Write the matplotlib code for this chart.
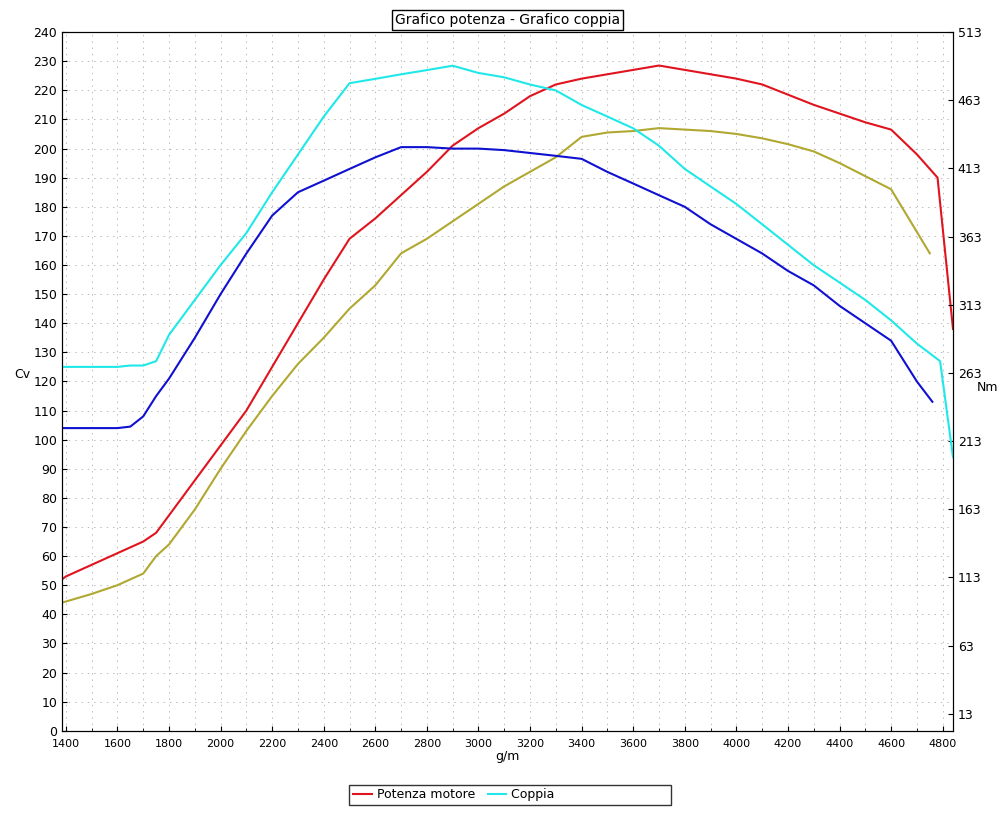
import matplotlib
matplotlib.use("Agg")
import matplotlib.pyplot as plt
from matplotlib.ticker import MultipleLocator

rpm_red = [1385,1400,1500,1600,1700,1750,1800,1900,2000,2100,2200,2300,2400,2500,2600,2700,2800,2900,3000,3100,3200,3300,3400,3500,3600,3700,3800,3900,4000,4100,4200,4300,4400,4500,4600,4700,4780,4840]
power_red = [52,53,57,61,65,68,74,86,98,110,125,140,155,169,176,184,192,201,207,212,218,222,224,225.5,227,228.5,227,225.5,224,222,218.5,215,212,209,206.5,198,190,138]

rpm_olive = [1385,1500,1600,1700,1750,1800,1900,2000,2100,2200,2300,2400,2500,2600,2700,2800,2900,3000,3100,3200,3300,3400,3500,3600,3700,3800,3900,4000,4100,4200,4300,4400,4500,4600,4750]
power_olive = [44,47,50,54,60,64,76,90,103,115,126,135,145,153,164,169,175,181,187,192,197,204,205.5,206,207,206.5,206,205,203.5,201.5,199,195,190.5,186,164]

rpm_cyan = [1385,1600,1650,1700,1750,1800,1900,2000,2100,2200,2300,2400,2500,2600,2700,2800,2900,3000,3100,3200,3300,3400,3500,3600,3700,3800,3900,4000,4100,4200,4300,4400,4500,4600,4700,4790,4840]
torque_cyan = [267.4,267.4,268.4,268.4,271.6,290.9,316.5,342.1,365.6,395.5,423.2,451,475.5,478.7,482,485.1,488.3,483,479.8,474.5,470.2,459.5,451,442.4,429.6,412.6,399.7,386.9,372,357,342,329.3,316.5,301.5,284.5,271.6,201.2]

rpm_blue = [1385,1600,1650,1700,1750,1800,1900,2000,2100,2200,2300,2400,2500,2600,2700,2800,2900,3000,3100,3200,3300,3400,3500,3600,3700,3800,3900,4000,4100,4200,4300,4400,4500,4600,4700,4760]
torque_blue = [222.5,222.5,223.6,231.1,246,258.8,288.7,320.8,350.6,378.4,395.5,404,412.6,421.1,428.6,428.6,427.5,427.5,426.4,424.3,422.2,420,410.4,401.9,393.3,384.8,372,361.3,350.6,337.8,327.2,312.2,299.4,286.6,256.7,241.8]

fig = plt.figure(figsize=(10, 8.22), dpi=100)
ax = fig.add_axes([0.062, 0.111, 0.891, 0.850])
ax2 = ax.twinx()

ax.plot(rpm_olive, power_olive, color="#b0a830", lw=1.5)
ax.plot(rpm_red, power_red, color="#e0141e", lw=1.5, label="Potenza motore")
ax2.plot(rpm_blue, torque_blue, color="#1010d0", lw=1.5)
ax2.plot(rpm_cyan, torque_cyan, color="#20e8e8", lw=1.5, label="Coppia")

ax.set_xlim(1385, 4840)
ax.set_ylim(0, 240)
ax2.set_ylim(0.5, 513)
ax.xaxis.set_major_locator(MultipleLocator(200))
ax.xaxis.set_minor_locator(MultipleLocator(100))
ax.yaxis.set_major_locator(MultipleLocator(10))
ax2.set_yticks(list(range(13, 514, 50)))
ax.grid(True, which="both", axis="x", color="#bbbbbb", ls=(0, (1.5, 5)), lw=0.7)
ax.grid(True, which="major", axis="y", color="#bbbbbb", ls=(0, (1.5, 5)), lw=0.7)
for a in (ax, ax2):
    a.tick_params(labelsize=9, direction="in")
ax.tick_params(axis="x", labelsize=8, pad=6)
ax.tick_params(axis="x", which="minor", length=2, direction="in")
ax.set_xlabel("g/m", fontsize=9, labelpad=1)
ax.set_ylabel("Cv", fontsize=9, rotation=0, labelpad=8)
ax2.set_ylabel("Nm", fontsize=9, rotation=0, labelpad=4)
ax.set_title("Grafico potenza - Grafico coppia", fontsize=10,
             bbox=dict(facecolor="white", edgecolor="black", lw=1, pad=2), pad=6)

h1, l1 = ax.get_legend_handles_labels()
h2, l2 = ax2.get_legend_handles_labels()
leg = fig.legend(h1 + h2, l1 + l2, loc="center", bbox_to_anchor=(0.51, 0.033), ncol=2,
                 fontsize=9, frameon=True, fancybox=False, edgecolor="black",
                 handlelength=1.5, columnspacing=1, borderpad=0.3, handletextpad=0.4)
leg.get_texts()[1].set_text("Coppia" + " " * 28)
fig.savefig("out.png")
